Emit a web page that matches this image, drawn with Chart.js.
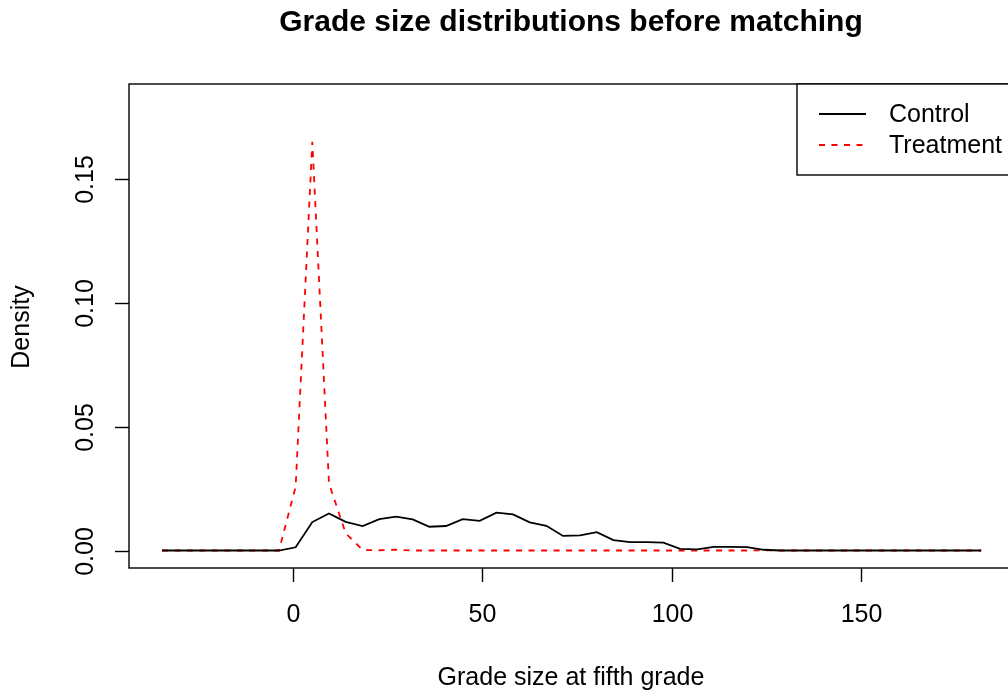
<!DOCTYPE html>
<html>
<head>
<meta charset="utf-8">
<script src="https://cdn.jsdelivr.net/npm/chart.js@4/dist/chart.umd.min.js"></script>
<style>
html,body{margin:0;padding:0;background:#fff;overflow:hidden;}
#wrap{position:relative;width:1030px;height:693px;}
</style>
</head>
<body>
<div id="wrap"><canvas id="c"></canvas></div>
<script>
// ---- data ----
const gradeSize = [-34.6, -30.2, -25.8, -21.4, -17.0, -12.5, -8.1, -3.7, 0.7, 5.1,
  9.5, 13.9, 18.4, 22.8, 27.2, 31.6, 36.0, 40.4, 44.8, 49.3,
  53.7, 58.1, 62.5, 66.9, 71.3, 75.8, 80.2, 84.6, 89.0, 93.4,
  97.8, 102.2, 106.7, 111.1, 115.5, 119.9, 124.3, 128.7, 133.1, 137.6,
  142.0, 146.4, 150.8, 155.2, 159.6, 164.1, 168.5, 172.9, 177.3, 181.7];
const controlDensity = [0, 0, 0, 0, 0, 0, 0, 0, 0.0013, 0.0115,
  0.0150, 0.0116, 0.0099, 0.0127, 0.0137, 0.0126, 0.0096, 0.0099, 0.0127, 0.0120,
  0.0153, 0.0146, 0.0114, 0.0100, 0.0059, 0.0061, 0.0074, 0.0042, 0.0034, 0.0034,
  0.0032, 0.0007, 0.0005, 0.0015, 0.0015, 0.0014, 0.0003, 0, 0, 0,
  0, 0, 0, 0, 0, 0, 0, 0, 0, 0];
const treatmentDensity = [0, 0, 0, 0, 0, 0, 0, 0, 0.0258, 0.1652,
  0.0272, 0.0070, 0.0002, 0.0001, 0.0003, 0, 0, 0, 0, 0,
  0, 0, 0, 0, 0, 0, 0, 0, 0, 0,
  0, 0, 0, 0, 0, 0, 0.0001, 0, 0, 0,
  0, 0, 0, 0, 0, 0, 0, 0, 0, 0];
const seriesNames = ["Control", "Treatment"];
const xTicks = [0, 50, 100, 150];
const yTicks = [0, 0.05, 0.10, 0.15];
const yTickLabels = ["0.00", "0.05", "0.10", "0.15"];
const titleText = "Grade size distributions before matching";
const xTitle = "Grade size at fifth grade";
const yTitle = "Density";

const FONT = '"Liberation Sans", Arial, Helvetica, sans-serif';

const rAxes = {
  id: 'rAxes',
  afterDraw(chart) {
    const ctx = chart.ctx;
    const xs = chart.scales.x, ys = chart.scales.y;
    const L = 129, T = 84, R = 1013, B = 568;
    ctx.save();
    ctx.strokeStyle = '#000';
    ctx.fillStyle = '#000';
    ctx.lineWidth = 1.4;
    ctx.setLineDash([]);
    ctx.strokeRect(L, T, R - L, B - T);
    // x axis ticks
    ctx.font = '25px ' + FONT;
    ctx.textAlign = 'center';
    ctx.textBaseline = 'middle';
    xTicks.forEach(v => {
      const px = Math.round(xs.getPixelForValue(v)) + 0.5;
      ctx.beginPath(); ctx.moveTo(px, B); ctx.lineTo(px, B + 14); ctx.stroke();
      ctx.fillText(String(v), px, 615);
    });
    // y axis ticks
    yTicks.forEach((v, i) => {
      const py = Math.round(ys.getPixelForValue(v)) + 0.5;
      ctx.beginPath(); ctx.moveTo(L, py); ctx.lineTo(L - 14, py); ctx.stroke();
      ctx.save();
      ctx.translate(86, py);
      ctx.rotate(-Math.PI / 2);
      ctx.fillText(yTickLabels[i], 0, 0);
      ctx.restore();
    });
    // axis titles
    ctx.font = '25px ' + FONT;
    ctx.fillText(xTitle, 571, 678);
    ctx.save();
    ctx.translate(22, 327);
    ctx.rotate(-Math.PI / 2);
    ctx.fillText(yTitle, 0, 0);
    ctx.restore();
    // main title
    ctx.font = 'bold 30px ' + FONT;
    ctx.fillText(titleText, 571, 23);
    // legend
    ctx.lineWidth = 1.4;
    ctx.fillStyle = '#fff';
    ctx.fillRect(797, T, 240, 91);
    ctx.strokeRect(797, T, 240, 91);
    ctx.lineWidth = 1.8;
    ctx.beginPath(); ctx.moveTo(819, 114); ctx.lineTo(866, 114); ctx.stroke();
    ctx.strokeStyle = '#ff0000';
    ctx.setLineDash([6, 6.5]);
    ctx.beginPath(); ctx.moveTo(819, 145); ctx.lineTo(866, 145); ctx.stroke();
    ctx.setLineDash([]);
    ctx.fillStyle = '#000';
    ctx.font = '25px ' + FONT;
    ctx.textAlign = 'left';
    ctx.fillText(seriesNames[0], 889, 115);
    ctx.fillText(seriesNames[1], 889, 146);
    ctx.restore();
  }
};

new Chart(document.getElementById('c'), {
  type: 'line',
  data: {
    datasets: [
      {
        label: seriesNames[0],
        data: gradeSize.map((x, i) => ({x: x, y: controlDensity[i]})),
        borderColor: '#000',
        borderWidth: 1.8,
        pointRadius: 0,
        tension: 0,
        fill: false
      },
      {
        label: seriesNames[1],
        data: gradeSize.map((x, i) => ({x: x, y: treatmentDensity[i]})),
        borderColor: '#ff0000',
        borderWidth: 1.8,
        borderDash: [6, 6.5],
        pointRadius: 0,
        tension: 0,
        fill: false
      }
    ]
  },
  options: {
    responsive: true,
    maintainAspectRatio: false,
    animation: false,
    events: [],
    layout: { padding: { left: 129, top: 84, right: 17, bottom: 125 } },
    plugins: { legend: { display: false }, title: { display: false }, tooltip: { enabled: false } },
    scales: {
      x: { type: 'linear', display: false, min: -43.3, max: 190.1 },
      y: { type: 'linear', display: false, min: -0.00707, max: 0.1886 }
    }
  },
  plugins: [rAxes]
});
</script>
</body>
</html>
